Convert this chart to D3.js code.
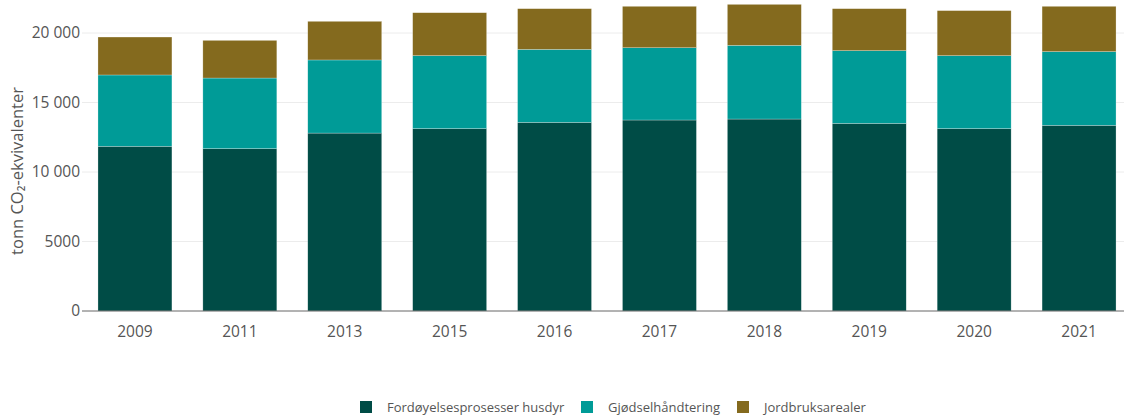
<!DOCTYPE html>
<html lang="no">
<head>
  <meta charset="UTF-8">
  <title>Utslipp fra jordbruk</title>
  <script src="https://d3js.org/d3.v7.min.js"></script>
  <style>
    body { margin: 0; background: #fff; font-family: "Open Sans", sans-serif; }
    .grid line { stroke: #ececec; }
    .tick text { fill: #555; }
  </style>
</head>
<body>
  <div id="chart"></div>
  <script>
    // år og kategorier
    const years = ["2009", "2011", "2013", "2015", "2016", "2017", "2018", "2019", "2020", "2021"];
    const seriesNames = ["Fordøyelsesprosesser husdyr", "Gjødselhåndtering", "Jordbruksarealer"];
    const fordoyelse = [11850, 11680, 12800, 13120, 13570, 13740, 13810, 13500, 13120, 13360];
    const gjodsel = [5130, 5080, 5260, 5250, 5250, 5200, 5300, 5230, 5250, 5300];
    const jordbruk = [2730, 2710, 2780, 3090, 2930, 2980, 2950, 3020, 3240, 3260];
    const yTicks = [0, 5000, 10000, 15000, 20000];
    const colors = ["#004c46", "#009b97", "#846a1e"];

    const width = 1124, height = 417;
    const margin = { top: 33, bottom: 106, left: 82.5 };

    const data = years.map((y, i) => ({
      year: y,
      [seriesNames[0]]: fordoyelse[i],
      [seriesNames[1]]: gjodsel[i],
      [seriesNames[2]]: jordbruk[i]
    }));

    const svg = d3.select("#chart").append("svg")
      .attr("width", width)
      .attr("height", height);

    // bandskala: siste stolpe når nesten helt ut til kanten
    const x = d3.scaleBand()
      .domain(years)
      .range([margin.left, 1131.5])
      .paddingInner(0.295)
      .paddingOuter(0.1475);

    const y = d3.scaleLinear()
      .domain([0, 20000])
      .range([height - margin.bottom, margin.top]);

    const color = d3.scaleOrdinal().domain(seriesNames).range(colors);

    // mellomrom som tusenskille, men ikke for 4-sifrede tall
    const fmt = d => d >= 10000 ? d3.format(",")(d).replace(/,/g, " ") : String(d);

    // rutenett
    svg.append("g")
      .attr("class", "grid")
      .selectAll("line")
      .data(yTicks.filter(d => d > 0))
      .join("line")
      .attr("x1", 82)
      .attr("x2", width)
      .attr("y1", d => y(d))
      .attr("y2", d => y(d));

    // y-akse
    const yAxis = svg.append("g")
      .attr("transform", `translate(82,0)`)
      .call(d3.axisLeft(y).tickValues(yTicks).tickFormat(fmt).tickSize(0).tickPadding(2));
    yAxis.select(".domain").remove();
    yAxis.selectAll("text").attr("font-size", 15.5).attr("font-family", "Open Sans");

    // stablede stolper
    const stacked = d3.stack().keys(seriesNames)(data);

    svg.append("g")
      .selectAll("g")
      .data(stacked)
      .join("g")
      .attr("fill", d => color(d.key))
      .selectAll("rect")
      .data(d => d)
      .join("rect")
      .attr("x", d => x(d.data.year))
      .attr("y", d => y(d[1]))
      .attr("width", x.bandwidth())
      .attr("height", d => y(d[0]) - y(d[1]))
      .attr("stroke", "rgba(255,255,255,0.5)")
      .attr("stroke-width", 0.5);

    // x-akse
    const xAxis = svg.append("g")
      .attr("transform", `translate(0,${y(0)})`)
      .call(d3.axisBottom(x).tickSize(0).tickPadding(15).tickSizeOuter(0));
    xAxis.select(".domain").attr("stroke", "#666").attr("d", `M82,0H${width}`);
    xAxis.selectAll("text").attr("font-size", 15.5).attr("font-family", "Open Sans");

    // y-aksetittel
    svg.append("text")
      .attr("transform", `translate(23,171) rotate(-90)`)
      .attr("text-anchor", "middle")
      .attr("font-size", 16.5)
      .attr("fill", "#555")
      .attr("font-family", "Open Sans")
      .text("tonn CO₂-ekvivalenter");

    // legende
    const legendX = [360, 581, 737];
    const legend = svg.append("g")
      .selectAll("g")
      .data(seriesNames)
      .join("g")
      .attr("transform", (d, i) => `translate(${legendX[i]},401)`);

    legend.append("rect")
      .attr("width", 12)
      .attr("height", 12)
      .attr("fill", d => color(d));

    legend.append("text")
      .attr("x", 27)
      .attr("y", 11)
      .attr("font-size", 13)
      .attr("fill", "#555")
      .attr("font-family", "Open Sans")
      .text(d => d);
  </script>
</body>
</html>
